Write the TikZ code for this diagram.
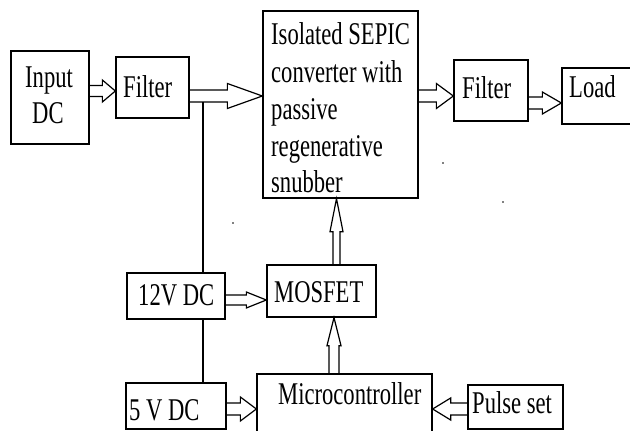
\documentclass[tikz,border=0pt]{standalone}
\usepackage{fontspec}
\setmainfont{Liberation Serif}
\usepackage{graphicx}
\usetikzlibrary{calc}
\tikzset{
  box/.style={draw, line width=1.3pt, rectangle, inner sep=0pt},
  txt/.style={inner sep=0pt, anchor=base west, font=\fontsize{22.6}{26}\selectfont},
  blk/.style={draw, line width=1.2pt, line join=miter},
  wire/.style={draw, line width=1.2pt},
  speck/.style={fill=black, draw=none},
}
\newcommand\tx[1]{\scalebox{1}[1.4]{#1}}
% right-pointing block arrow: from, to, Y, shaft half, head half, head length
\newcommand\rarrow[6]{%
  \path (#1.east |- 0,#3) coordinate (a0) (#2.west |- 0,#3) coordinate (b0);
  \draw[blk] ($(a0)+(0,-#4)$) -- ($(b0)+(-#6,-#4)$) -- ($(b0)+(-#6,-#5)$) -- (b0)
    -- ($(b0)+(-#6,#5)$) -- ($(b0)+(-#6,#4)$) -- ($(a0)+(0,#4)$);}
\newcommand\larrow[6]{%
  \path (#1.west |- 0,#3) coordinate (a0) (#2.east |- 0,#3) coordinate (b0);
  \draw[blk] ($(a0)+(0,-#4)$) -- ($(b0)+(#6,-#4)$) -- ($(b0)+(#6,-#5)$) -- (b0)
    -- ($(b0)+(#6,#5)$) -- ($(b0)+(#6,#4)$) -- ($(a0)+(0,#4)$);}
\newcommand\uarrow[6]{%
  \path (#1.north -| #3,0) coordinate (a0) (#2.south -| #3,0) coordinate (b0);
  \draw[blk] ($(a0)+(-#4,0)$) -- ($(b0)+(-#4,#6)$) -- ($(b0)+(-#5,#6)$) -- (b0)
    -- ($(b0)+(#5,#6)$) -- ($(b0)+(#4,#6)$) -- ($(a0)+(#4,0)$);}
\begin{document}
\begin{tikzpicture}[x=1pt, y=-1pt]
\useasboundingbox (0,0) rectangle (630,431);
\fill[white] (0,0) rectangle (630,431);
\clip (0,0) rectangle (630,431);

% boxes
\node[box, minimum width=78pt, minimum height=93pt] (in) at (50,97.5) {};
\node[box, minimum width=73pt, minimum height=61pt] (f1) at (152.5,87.5) {};
\node[box, minimum width=155pt, minimum height=187pt] (sepic) at (340.5,104.5) {};
\node[box, minimum width=74pt, minimum height=61pt] (f2) at (491,90.5) {};
\node[box, minimum width=88pt, minimum height=56pt] (load) at (606,96) {};
\node[box, minimum width=98pt, minimum height=46pt] (v12) at (176,296) {};
\node[box, minimum width=109pt, minimum height=52pt] (mos) at (321.5,291) {};
\node[box, minimum width=100pt, minimum height=46pt] (v5) at (176,406) {};
\node[box, minimum width=175pt, minimum height=86pt] (mc) at (344.5,417) {};
\node[box, minimum width=95pt, minimum height=44pt] (pulse) at (515.5,407) {};

% texts
\node[txt] (t-in1) at (25,87) {\tx{Input}};
\node[txt] (t-in2) at (32,123) {\tx{DC}};
\node[txt] (t-f1) at (123,97) {\tx{Filter}};
\node[txt] (t-s1) at (271,45) {\tx{Isolated SEPIC}};
\node[txt] (t-s2) at (271,82) {\tx{converter with}};
\node[txt] (t-s3) at (271,119) {\tx{passive}};
\node[txt] (t-s4) at (271,156) {\tx{regenerative}};
\node[txt] (t-s5) at (271,192) {\tx{snubber}};
\node[txt] (t-f2) at (462,98) {\tx{Filter}};
\node[txt] (t-load) at (569,97) {\tx{Load}};
\node[txt] (t-v12) at (138,305) {\tx{12V DC}};
\node[txt] (t-mos) at (274,302) {\tx{MOSFET}};
\node[txt] (t-v5) at (129,420) {\tx{5 V DC}};
\node[txt] (t-mc) at (278,404) {\tx{Microcontroller}};
\node[txt] (t-pulse) at (472,413) {\tx{Pulse set}};

% block arrows
\rarrow{in}{f1}{91}{5.5}{11}{13}
\rarrow{f1}{sepic}{96}{6}{12.5}{35}
\rarrow{sepic}{f2}{96}{6}{12.5}{17}
\rarrow{f2}{load}{103}{6}{11}{19}
\rarrow{v12}{mos}{300}{5}{8}{20}
\rarrow{v5}{mc}{409}{6}{12}{16}
\larrow{pulse}{mc}{409}{6}{11}{18}
\uarrow{mc}{mos}{334}{5}{7}{28}
\uarrow{mos}{sepic}{336.5}{3.5}{6.5}{33}

% supply wires
\coordinate (tap) at (203,102);
\draw[wire] (tap) -- (tap |- v12.north);
\draw[wire] (v12.south -| tap) -- (v5.north -| tap);

% specks
\fill[speck] (443,163) circle (0.8);
\fill[speck] (503,202) circle (0.8);
\fill[speck] (233,223) circle (0.8);
\end{tikzpicture}
\end{document}
